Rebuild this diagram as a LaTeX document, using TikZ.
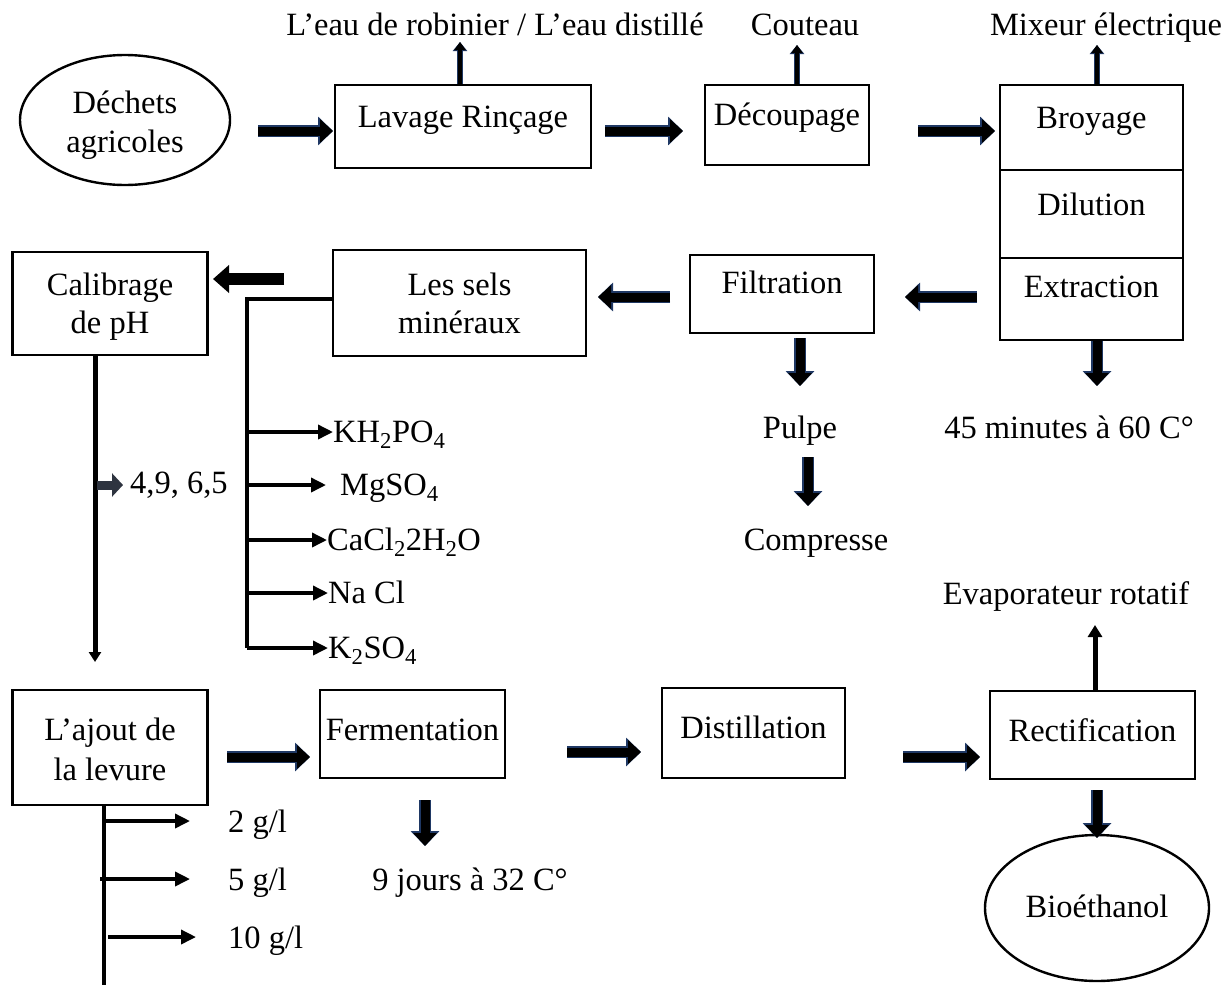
\documentclass[tikz,border=0pt]{standalone}
\usepackage{fontspec}
\setmainfont{Liberation Serif}
\usetikzlibrary{arrows.meta,shapes.geometric}
\definecolor{navy}{HTML}{1F3864}
\definecolor{slate}{HTML}{2E3440}
\begin{document}
\begin{tikzpicture}[x=1pt,y=-1pt,
  box/.style={draw, line width=2.4pt, inner sep=0pt},
  oval/.style={draw, ellipse, line width=2.4pt, inner sep=0pt},
  txt/.style={font=\fontsize{32.5}{38}\selectfont, anchor=base, inner sep=0pt},
  txtw/.style={txt, anchor=base west},
  barrow/.style={line width=9pt, -{Triangle[width=23pt,length=13pt]},
     preaction={draw=navy, line width=12pt, -{Triangle[width=28pt,length=15pt]}}},
  uparrow/.style={line width=4pt, -{Triangle[width=11pt,length=8pt]},
     preaction={draw=navy, line width=6pt, -{Triangle[width=14pt,length=9pt]}}},
  bigleft/.style={line width=12pt, -{Triangle[width=27pt,length=16pt]}},
  thin/.style={line width=3.5pt, -{Triangle[width=14pt,length=15pt]}},
  plain/.style={line width=4.5pt},
  phar/.style={line width=9pt, draw=slate, -{Triangle[width=23pt,length=11pt]}},
]
\useasboundingbox (0,0) rectangle (1230,988);

% ---- nodes (boxes)
\node[oval, minimum width=210pt, minimum height=130pt] (dech) at (125,120) {};
\node[box, minimum width=256pt, minimum height=83pt] (lav) at (463,126.5) {};
\node[box, minimum width=164pt, minimum height=80pt] (dec) at (787,125) {};
\node[box, minimum width=183pt, minimum height=85pt] (broy) at (1091.5,127.5) {};
\node[box, minimum width=183pt, minimum height=88pt] (dil) at (1091.5,214) {};
\node[box, minimum width=183pt, minimum height=82pt] (ext) at (1091.5,299) {};
\node[box, minimum width=184pt, minimum height=78pt] (filt) at (782,294) {};
\node[box, minimum width=253pt, minimum height=106pt] (sels) at (459.5,303) {};
\node[box, minimum width=195pt, minimum height=103pt] (cal) at (110,303.5) {};
\node[box, minimum width=195pt, minimum height=115pt] (ajout) at (110,747.5) {};
\node[box, minimum width=185pt, minimum height=88pt] (ferm) at (412.5,734) {};
\node[box, minimum width=183pt, minimum height=90pt] (dist) at (753.5,733) {};
\node[box, minimum width=205pt, minimum height=88pt] (rect) at (1092.5,735) {};
\node[oval, minimum width=224pt, minimum height=146pt] (bio) at (1097,908) {};

% ---- texts in boxes
\node[txt] (t1) at (125,113) {Déchets};
\node[txt] (t2) at (125,152) {agricoles};
\node[txt] (t3) at (463,127) {Lavage Rinçage};
\node[txt] (t4) at (787,125) {Découpage};
\node[txt] (t5) at (1091.5,128) {Broyage};
\node[txt] (t6) at (1091.5,215) {Dilution};
\node[txt] (t7) at (1091.5,297) {Extraction};
\node[txt] (t8) at (782,293) {Filtration};
\node[txt] (t9) at (459.5,295) {Les sels};
\node[txt] (t10) at (459.5,333) {minéraux};
\node[txt] (t11) at (110,295) {Calibrage};
\node[txt] (t12) at (110,333) {de pH};
\node[txt] (t13) at (110,740) {L’ajout de};
\node[txt] (t14) at (110,780) {la levure};
\node[txt] (t15) at (412.5,740) {Fermentation};
\node[txt] (t16) at (753.5,738) {Distillation};
\node[txt] (t17) at (1092.5,741) {Rectification};
\node[txt] (t18) at (1097,917) {Bioéthanol};

% ---- free texts
\node[txt] (eau) at (495,35) {L’eau de robinier / L’eau distillé};
\node[txt] (cout) at (805,35) {Couteau};
\node[txt] (mix) at (1106,35) {Mixeur électrique};
\node[txt] (min) at (1069,438) {45 minutes à 60 C°};
\node[txt] (pulpe) at (800,438) {Pulpe};
\node[txt] (comp) at (816,550) {Compresse};
\node[txt] (evap) at (1066,604) {Evaporateur rotatif};
\node[txt] (jours) at (470,890) {9 jours à 32 C°};
\node[txtw] (ph) at (130,493) {4,9, 6,5};
\node[txtw] (s1) at (333,442) {KH\textsubscript{2}PO\textsubscript{4}};
\node[txtw] (s2) at (340,495) {MgSO\textsubscript{4}};
\node[txtw] (s3) at (327,550) {CaCl\textsubscript{2}2H\textsubscript{2}O};
\node[txtw] (s4) at (328,603) {Na Cl};
\node[txtw] (s5) at (328,658) {K\textsubscript{2}SO\textsubscript{4}};
\node[txtw] (g1) at (228,832) {2 g/l};
\node[txtw] (g2) at (228,890) {5 g/l};
\node[txtw] (g3) at (228,948) {10 g/l};

% ---- coordinates for free ends
\coordinate (eauend) at (460,42);
\coordinate (coutend) at (797,45);
\coordinate (mixend) at (1097,45);
\coordinate (evapend) at (1095,625);
\coordinate (bus) at (247,299);
\coordinate (busend) at (247,648);
\coordinate (calend) at (95,662);
\coordinate (lev) at (104,805);
\coordinate (levend) at (104,985);

% ---- block arrows
\draw[barrow] (258,131) -- (333,131);
\draw[barrow] (605,131) -- (683,131);
\draw[barrow] (918,131) -- (995,131);
\draw[barrow] (977,297) -- (905,297);
\draw[barrow] (670,297) -- (598,297);
\draw[barrow] (ext.south -| mixend) -- (1097,386);
\draw[barrow] (800,338) -- (800,386);
\draw[barrow] (808,457) -- (808,506);
\draw[barrow] (227,757) -- (310,757);
\draw[barrow] (567,752) -- (641,752);
\draw[barrow] (903,757) -- (980,757);
\draw[barrow] (425,800) -- (425,846);
\draw[barrow] (1097,790) -- (1097,838);

% ---- thin up arrows
\draw[uparrow] (lav.north -| eauend) -- (eauend);
\draw[uparrow] (dec.north -| coutend) -- (coutend);
\draw[uparrow] (broy.north -| mixend) -- (mixend);
\draw[line width=5pt, -{Triangle[width=14pt,length=12pt]}] (rect.north -| evapend) -- (evapend);

% ---- sels bus
\draw[bigleft] (284,279) -- (213,279);
\draw[plain] (sels.west |- bus) -- (bus) -- (busend);
\draw[thin] (247,432) -- (s1.west |- 0,432);
\draw[thin] (247,485) -- (326,485);
\draw[thin] (247,540) -- (s3.west |- 0,540);
\draw[thin] (247,593) -- (s4.west |- 0,593);
\draw[thin] (busend) -- (s5.west |- busend);

% ---- pH line
\draw[line width=5pt, -{Triangle[width=12pt,length=10pt]}] (cal.south -| calend) -- (calend);
\draw[phar] (97,485) -- (123,485);

% ---- levure
\draw[plain] (ajout.south -| lev) -- (levend);
\draw[thin] (104,821) -- (190,821);
\draw[thin] (100,879) -- (190,879);
\draw[thin] (108,937) -- (196,937);
\end{tikzpicture}
\end{document}
